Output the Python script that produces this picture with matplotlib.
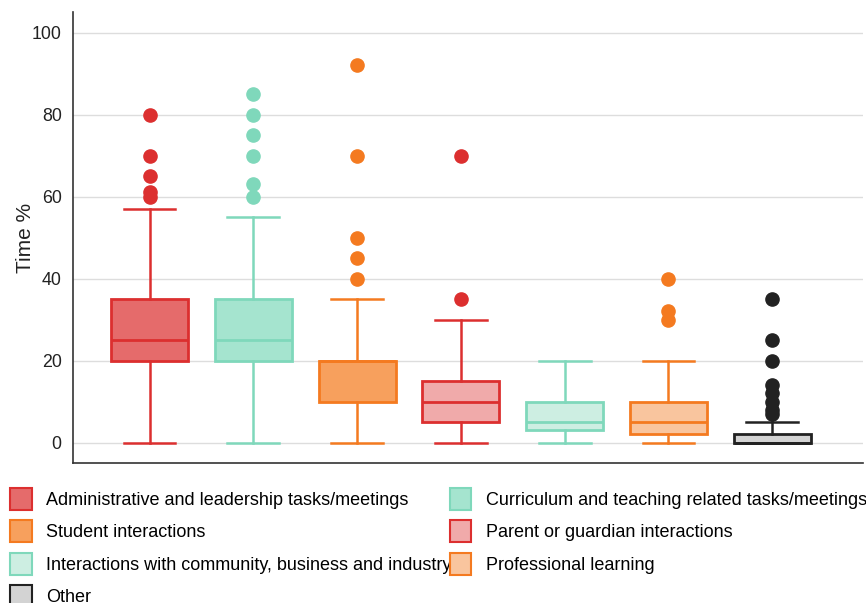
import matplotlib
matplotlib.use("Agg")
import matplotlib.pyplot as plt
from matplotlib.patches import Patch

plt.rcParams['font.family'] = ['Liberation Sans', 'DejaVu Sans']

categories = [
    "Administrative and leadership tasks/meetings",
    "Curriculum and teaching related tasks/meetings",
    "Student interactions",
    "Parent or guardian interactions",
    "Interactions with community, business and industry",
    "Professional learning",
    "Other",
]
whisker_low = [0, 0, 0, 0, 0, 0, 0]
q1 = [20, 20, 10, 5, 3, 2, 0]
median = [25, 25, 20, 10, 5, 5, 0]
q3 = [35, 35, 20, 15, 10, 10, 2]
whisker_high = [57, 55, 35, 30, 20, 20, 5]
outliers = [
    [60, 61, 65, 70, 80],
    [60, 63, 70, 75, 80, 85],
    [40, 45, 50, 70, 92],
    [35, 70],
    [],
    [30, 32, 40],
    [7, 8, 10, 12, 14, 20, 25, 35],
]
edge_colors = ["#dc2f2f", "#7fd8bb", "#f47a20", "#dc2f2f", "#7fd8bb", "#f47a20", "#222222"]
fill_colors = ["#e56b6b", "#a5e4cf", "#f7a05d", "#f0aaaa", "#cdeee2", "#f9c59e", "#d3d3d3"]


def main():
    fig = plt.figure(figsize=(8.66, 6.03), dpi=100)
    ax = fig.add_axes([0.084, 0.232, 0.912, 0.748])

    stats = []
    for i in range(len(categories)):
        stats.append({
            "whislo": whisker_low[i], "q1": q1[i], "med": median[i],
            "q3": q3[i], "whishi": whisker_high[i], "fliers": outliers[i],
        })

    for i, s in enumerate(stats):
        ec = edge_colors[i]
        ax.bxp([s], positions=[i + 1], widths=0.74, patch_artist=True,
               showfliers=True, manage_ticks=False,
               boxprops=dict(facecolor=fill_colors[i], edgecolor=ec, linewidth=2),
               medianprops=dict(color=ec, linewidth=2),
               whiskerprops=dict(color=ec, linewidth=1.8),
               capprops=dict(color=ec, linewidth=1.8),
               capwidths=0.5,
               flierprops=dict(marker="o", markerfacecolor=ec, markeredgecolor=ec,
                               markersize=9.5, linestyle="none"))

    ax.set_xlim(0.26, 7.87)
    ax.set_ylim(-5, 105)
    ax.set_yticks([0, 20, 40, 60, 80, 100])
    ax.set_xticks([])
    ax.tick_params(axis="y", length=0, labelsize=12.8, colors="#222222", pad=8)
    ax.set_ylabel("Time %", fontsize=15, color="#222222", labelpad=-2)
    ax.grid(axis="y", color="#dddddd", linewidth=1)
    ax.set_axisbelow(True)
    for side in ["top", "right"]:
        ax.spines[side].set_visible(False)
    for side in ["left", "bottom"]:
        ax.spines[side].set_color("#333333")
        ax.spines[side].set_linewidth(1.2)

    # legend reads row by row in the reference, matplotlib fills columns first
    order = [0, 2, 4, 6, 1, 3, 5]
    handles = [Patch(facecolor=fill_colors[i], edgecolor=edge_colors[i], linewidth=1.5,
                     label=categories[i]) for i in order]
    fig.legend(handles=handles, loc="upper left", bbox_to_anchor=(-0.003, 0.212),
               ncol=2, frameon=False, fontsize=13, handlelength=1.2,
               handleheight=1.5, handletextpad=0.8, columnspacing=-0.1,
               labelspacing=0.58, borderaxespad=0.3)

    fig.savefig("out.png", dpi=100)


if __name__ == "__main__":
    main()
